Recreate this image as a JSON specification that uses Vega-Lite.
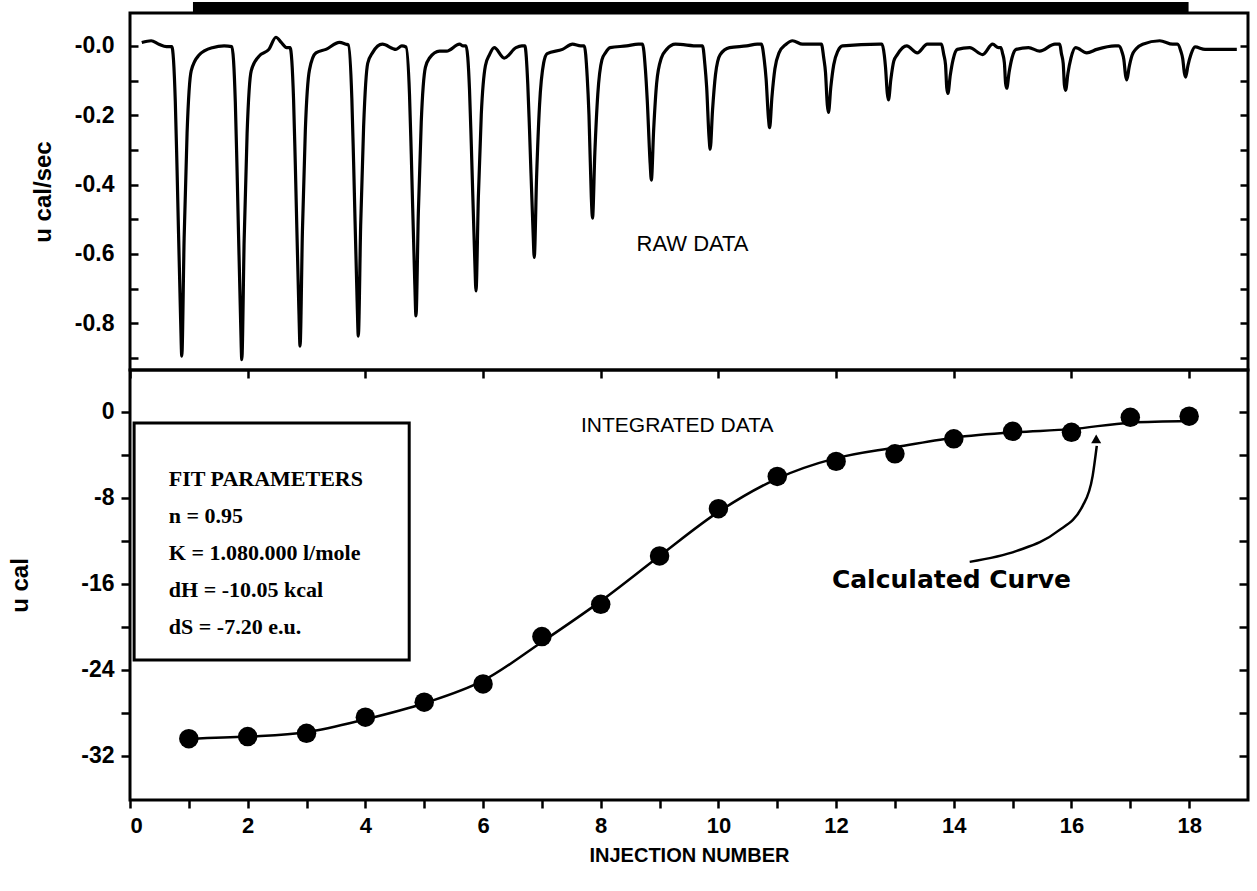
{
  "$schema": "https://vega.github.io/schema/vega-lite/v6.json",
  "padding": {"left": 6, "top": 0, "right": 5, "bottom": 5},
  "bounds": "flush",
  "spacing": 0,
  "background": "white",
  "config": {
    "view": {"stroke": "black", "strokeWidth": 3},
    "font": "Liberation Sans",
    "axis": {
      "domain": false, "grid": false, "tickColor": "black", "tickWidth": 2.5,
      "labelColor": "black", "titleColor": "black",
      "labelFont": "Liberation Sans", "labelFontWeight": "bold", "labelFontSize": 23,
      "titleFont": "Liberation Sans", "titleFontWeight": "bold", "titleFontSize": 24
    }
  },
  "datasets": {
    "raw": [
      {"t":0.20,"v":0.010},{"t":0.36,"v":0.015},{"t":0.49,"v":0.005},{"t":0.62,"v":-0.002},
      {"t":0.71,"v":-0.002},{"t":0.77,"v":-0.161},{"t":0.80,"v":-0.358},{"t":0.86,"v":-0.788},{"t":0.88,"v":-0.895},{"t":0.92,"v":-0.555},{"t":0.97,"v":-0.251},{"t":1.04,"v":-0.072},{"t":1.17,"v":-0.027},{"t":1.40,"v":-0.005},{"t":1.60,"v":0.0},
      {"t":1.73,"v":-0.002},{"t":1.79,"v":-0.163},{"t":1.82,"v":-0.362},{"t":1.88,"v":-0.796},{"t":1.90,"v":-0.905},{"t":1.94,"v":-0.561},{"t":1.99,"v":-0.253},{"t":2.06,"v":-0.072},{"t":2.19,"v":-0.03},{"t":2.36,"v":-0.01},{"t":2.48,"v":0.025},{"t":2.57,"v":0.01},{"t":2.66,"v":-0.005},
      {"t":2.72,"v":-0.005},{"t":2.78,"v":-0.156},{"t":2.81,"v":-0.346},{"t":2.87,"v":-0.762},{"t":2.89,"v":-0.866},{"t":2.93,"v":-0.537},{"t":2.98,"v":-0.242},{"t":3.05,"v":-0.069},{"t":3.16,"v":-0.02},{"t":3.33,"v":-0.01},{"t":3.56,"v":0.01},{"t":3.67,"v":0.005},
      {"t":3.71,"v":0.003},{"t":3.77,"v":-0.151},{"t":3.80,"v":-0.335},{"t":3.86,"v":-0.737},{"t":3.88,"v":-0.837},{"t":3.92,"v":-0.519},{"t":3.97,"v":-0.234},{"t":4.04,"v":-0.05},{"t":4.12,"v":-0.02},{"t":4.29,"v":0.005},{"t":4.52,"v":-0.01},{"t":4.62,"v":0.0},
      {"t":4.69,"v":-0.003},{"t":4.75,"v":-0.14},{"t":4.78,"v":-0.312},{"t":4.84,"v":-0.686},{"t":4.86,"v":-0.779},{"t":4.90,"v":-0.483},{"t":4.95,"v":-0.218},{"t":5.02,"v":-0.062},{"t":5.09,"v":-0.035},{"t":5.26,"v":-0.015},{"t":5.38,"v":-0.015},{"t":5.60,"v":0.005},{"t":5.66,"v":0.0},
      {"t":5.71,"v":0.0},{"t":5.77,"v":-0.127},{"t":5.80,"v":-0.283},{"t":5.86,"v":-0.622},{"t":5.88,"v":-0.707},{"t":5.92,"v":-0.438},{"t":5.97,"v":-0.198},{"t":6.04,"v":-0.057},{"t":6.11,"v":-0.025},{"t":6.19,"v":-0.005},{"t":6.36,"v":-0.035},{"t":6.56,"v":-0.005},{"t":6.66,"v":0.0},
      {"t":6.71,"v":0.0},{"t":6.76,"v":-0.11},{"t":6.79,"v":-0.244},{"t":6.85,"v":-0.537},{"t":6.87,"v":-0.61},{"t":6.91,"v":-0.378},{"t":6.96,"v":-0.171},{"t":7.03,"v":-0.049},{"t":7.09,"v":-0.022},{"t":7.35,"v":-0.01},{"t":7.52,"v":0.005},{"t":7.66,"v":0.0},
      {"t":7.72,"v":0.0},{"t":7.77,"v":-0.089},{"t":7.80,"v":-0.199},{"t":7.84,"v":-0.437},{"t":7.86,"v":-0.497},{"t":7.90,"v":-0.308},{"t":7.95,"v":-0.139},{"t":8.02,"v":-0.04},{"t":8.08,"v":-0.02},{"t":8.16,"v":-0.005},{"t":8.44,"v":0.0},{"t":8.64,"v":0.005},
      {"t":8.71,"v":0.005},{"t":8.76,"v":-0.07},{"t":8.79,"v":-0.155},{"t":8.84,"v":-0.34},{"t":8.86,"v":-0.387},{"t":8.90,"v":-0.24},{"t":8.95,"v":-0.108},{"t":9.03,"v":-0.035},{"t":9.12,"v":-0.01},{"t":9.27,"v":0.005},{"t":9.66,"v":0.0},
      {"t":9.73,"v":0.0},{"t":9.77,"v":-0.054},{"t":9.80,"v":-0.119},{"t":9.84,"v":-0.262},{"t":9.86,"v":-0.298},{"t":9.90,"v":-0.185},{"t":9.95,"v":-0.083},{"t":10.03,"v":-0.025},{"t":10.19,"v":-0.005},{"t":10.48,"v":0.0},{"t":10.66,"v":0.005},
      {"t":10.73,"v":0.005},{"t":10.78,"v":-0.042},{"t":10.81,"v":-0.094},{"t":10.85,"v":-0.208},{"t":10.87,"v":-0.236},{"t":10.91,"v":-0.146},{"t":10.96,"v":-0.066},{"t":11.03,"v":-0.02},{"t":11.15,"v":0.005},{"t":11.26,"v":0.015},{"t":11.43,"v":0.005},{"t":11.67,"v":0.005},
      {"t":11.75,"v":0.005},{"t":11.79,"v":-0.035},{"t":11.82,"v":-0.077},{"t":11.85,"v":-0.169},{"t":11.87,"v":-0.192},{"t":11.91,"v":-0.119},{"t":11.96,"v":-0.054},{"t":12.03,"v":-0.015},{"t":12.11,"v":0.0},{"t":12.74,"v":0.005},
      {"t":12.78,"v":0.005},{"t":12.82,"v":-0.028},{"t":12.84,"v":-0.062},{"t":12.87,"v":-0.137},{"t":12.89,"v":-0.156},{"t":12.93,"v":-0.097},{"t":12.98,"v":-0.044},{"t":13.04,"v":-0.025},{"t":13.20,"v":0.0},{"t":13.38,"v":-0.02},{"t":13.55,"v":0.005},{"t":13.72,"v":0.005},
      {"t":13.79,"v":0.005},{"t":13.83,"v":-0.025},{"t":13.86,"v":-0.055},{"t":13.88,"v":-0.12},{"t":13.90,"v":-0.137},{"t":13.94,"v":-0.085},{"t":13.99,"v":-0.038},{"t":14.06,"v":-0.01},{"t":14.27,"v":-0.005},{"t":14.49,"v":-0.025},{"t":14.66,"v":0.005},{"t":14.76,"v":-0.005},
      {"t":14.80,"v":-0.005},{"t":14.83,"v":-0.022},{"t":14.86,"v":-0.049},{"t":14.88,"v":-0.107},{"t":14.90,"v":-0.122},{"t":14.94,"v":-0.076},{"t":14.99,"v":-0.034},{"t":15.06,"v":-0.01},{"t":15.27,"v":-0.005},{"t":15.46,"v":-0.015},{"t":15.72,"v":0.005},
      {"t":15.80,"v":0.005},{"t":15.83,"v":-0.023},{"t":15.86,"v":-0.051},{"t":15.88,"v":-0.113},{"t":15.90,"v":-0.128},{"t":15.94,"v":-0.079},{"t":15.99,"v":-0.036},{"t":16.07,"v":-0.005},{"t":16.26,"v":-0.02},{"t":16.43,"v":-0.01},{"t":16.74,"v":0.0},
      {"t":16.80,"v":0.0},{"t":16.86,"v":-0.018},{"t":16.89,"v":-0.039},{"t":16.92,"v":-0.086},{"t":16.94,"v":-0.098},{"t":16.98,"v":-0.061},{"t":17.03,"v":-0.027},{"t":17.10,"v":-0.008},{"t":17.21,"v":0.005},{"t":17.50,"v":0.015},{"t":17.72,"v":0.005},
      {"t":17.80,"v":0.005},{"t":17.86,"v":-0.016},{"t":17.89,"v":-0.036},{"t":17.92,"v":-0.079},{"t":17.94,"v":-0.09},{"t":17.98,"v":-0.056},{"t":18.03,"v":-0.025},{"t":18.10,"v":-0.003},{"t":18.27,"v":-0.01},{"t":18.44,"v":-0.01},{"t":18.81,"v":-0.01}
    ],
    "itc": [
      {"injection":1,"heat":-30.4,"fit":-30.4},
      {"injection":2,"heat":-30.2,"fit":-30.2},
      {"injection":3,"heat":-29.9,"fit":-29.8},
      {"injection":4,"heat":-28.4,"fit":-28.6},
      {"injection":5,"heat":-27.0,"fit":-27.1},
      {"injection":6,"heat":-25.3,"fit":-25.0},
      {"injection":7,"heat":-20.9,"fit":-21.4},
      {"injection":8,"heat":-17.9,"fit":-17.6},
      {"injection":9,"heat":-13.4,"fit":-13.4},
      {"injection":10,"heat":-9.0,"fit":-9.3},
      {"injection":11,"heat":-6.0,"fit":-6.2},
      {"injection":12,"heat":-4.6,"fit":-4.3},
      {"injection":13,"heat":-3.9,"fit":-3.3},
      {"injection":14,"heat":-2.5,"fit":-2.4},
      {"injection":15,"heat":-1.8,"fit":-1.9},
      {"injection":16,"heat":-1.9,"fit":-1.6},
      {"injection":17,"heat":-0.5,"fit":-1.0},
      {"injection":18,"heat":-0.4,"fit":-0.85}
    ],
    "arrow": [
      {"x":14.27,"y":-13.95},{"x":15.07,"y":-12.93},{"x":15.75,"y":-11.16},{"x":16.19,"y":-8.74},{"x":16.36,"y":-5.95},{"x":16.43,"y":-3.16}
    ]
  },
  "vconcat": [
    {
      "width": 1118,
      "height": 357,
      "layer": [
        {
          "data": {"name": "raw"},
          "mark": {"type": "line", "color": "black", "strokeWidth": 3.2, "interpolate": "monotone"},
          "encoding": {
            "x": {"field": "t", "type": "quantitative", "scale": {"domain": [0, 19], "nice": false, "zero": false}, "axis": null},
            "y": {"field": "v", "type": "quantitative", "scale": {"domain": [-0.935, 0.095], "nice": false, "zero": false},
              "axis": {"orient": "left", "title": "u cal/sec", "values": [-0.9,-0.8,-0.7,-0.6,-0.5,-0.4,-0.3,-0.2,-0.1,0],
                "tickSize": -8, "labelPadding": 24,
                "labelExpr": "abs(round(datum.value*10)) % 2 == 0 ? '-' + format(abs(datum.value), '.1f') : ''",
                "titleX": -87, "titleBaseline": "middle"}}
          }
        },
        {
          "data": {"values": [{}]},
          "mark": {"type": "rect", "color": "black", "clip": false},
          "encoding": {
            "x": {"datum": 1.07, "type": "quantitative", "axis": null},
            "x2": {"datum": 17.99},
            "y": {"datum": 0.095, "type": "quantitative",
              "axis": {"orient": "right", "title": null, "labels": false, "values": [-0.9,-0.8,-0.7,-0.6,-0.5,-0.4,-0.3,-0.2,-0.1,0], "tickSize": -8}},
            "y2": {"datum": 0.127}
          }
        },
        {
          "data": {"values": [{}]},
          "mark": {"type": "text", "text": "RAW DATA", "font": "Liberation Sans", "fontSize": 22, "color": "black", "align": "center", "baseline": "middle"},
          "encoding": {
            "x": {"datum": 9.56, "type": "quantitative", "axis": null},
            "y": {"datum": -0.571, "type": "quantitative", "axis": null}
          }
        }
      ],
      "resolve": {"axis": {"y": "independent"}}
    },
    {
      "width": 1118,
      "height": 430,
      "layer": [
        {
          "data": {"name": "itc"},
          "mark": {"type": "line", "color": "black", "strokeWidth": 2.5, "interpolate": "monotone"},
          "encoding": {
            "x": {"field": "injection", "type": "quantitative", "scale": {"domain": [0, 19], "nice": false, "zero": false},
              "axis": {"orient": "bottom", "title": "INJECTION NUMBER", "values": [0,1,2,3,4,5,6,7,8,9,10,11,12,13,14,15,16,17,18],
                "tickSize": 8, "labelPadding": 7, "labelFontSize": 22, "labelExpr": "datum.value % 2 == 0 ? format(datum.value, 'd') : ''",
                "titleFontSize": 20, "titlePadding": 9}},
            "y": {"field": "fit", "type": "quantitative", "scale": {"domain": [-36.1, 3.9], "nice": false, "zero": false},
              "axis": {"orient": "left", "title": "u cal", "values": [-32,-28,-24,-20,-16,-12,-8,-4,0],
                "tickSize": 9, "labelPadding": 7,
                "labelExpr": "abs(datum.value) % 8 == 0 ? (datum.value == 0 ? '0' : '-' + format(abs(datum.value), 'd')) : ''",
                "titleX": -110, "titleBaseline": "middle"}}
          }
        },
        {
          "data": {"name": "itc"},
          "mark": {"type": "point", "filled": true, "color": "black", "opacity": 1, "size": 380, "shape": "circle"},
          "encoding": {
            "x": {"field": "injection", "type": "quantitative",
              "axis": {"orient": "top", "title": null, "labels": false, "values": [0,2,4,6,8,10,12,14,16,18], "tickSize": -8}},
            "y": {"field": "heat", "type": "quantitative",
              "axis": {"orient": "right", "title": null, "labels": false, "values": [-32,-28,-24,-20,-16,-12,-8,-4,0], "tickSize": -9}}
          }
        },
        {
          "data": {"values": [{}]},
          "mark": {"type": "rect", "fill": "white", "stroke": "black", "strokeWidth": 3},
          "encoding": {
            "x": {"datum": 0.07, "type": "quantitative", "axis": null},
            "x2": {"datum": 4.745},
            "y": {"datum": -1.02, "type": "quantitative", "axis": null},
            "y2": {"datum": -23.07}
          }
        },
        {
          "data": {"values": [{}]},
          "mark": {"type": "text", "text": ["FIT PARAMETERS", "n = 0.95", "K = 1.080.000 l/mole", "dH = -10.05 kcal", "dS = -7.20 e.u."],
            "font": "Liberation Serif", "fontWeight": "bold", "fontSize": 22, "lineHeight": 37, "color": "black", "align": "left", "baseline": "alphabetic"},
          "encoding": {
            "x": {"datum": 0.66, "type": "quantitative", "axis": null},
            "y": {"datum": -6.88, "type": "quantitative", "axis": null}
          }
        },
        {
          "data": {"values": [{}]},
          "mark": {"type": "text", "text": "INTEGRATED DATA", "font": "Liberation Sans", "fontSize": 21, "color": "black", "align": "center", "baseline": "middle"},
          "encoding": {
            "x": {"datum": 9.3, "type": "quantitative", "axis": null},
            "y": {"datum": -1.3, "type": "quantitative", "axis": null}
          }
        },
        {
          "data": {"values": [{}]},
          "mark": {"type": "text", "text": "Calculated Curve", "font": "DejaVu Sans", "fontWeight": "bold", "fontSize": 25, "color": "black", "align": "center", "baseline": "middle"},
          "encoding": {
            "x": {"datum": 13.96, "type": "quantitative", "axis": null},
            "y": {"datum": -15.63, "type": "quantitative", "axis": null}
          }
        },
        {
          "data": {"name": "arrow"},
          "mark": {"type": "line", "color": "black", "strokeWidth": 2.5, "interpolate": "monotone"},
          "encoding": {
            "x": {"field": "x", "type": "quantitative", "axis": null},
            "y": {"field": "y", "type": "quantitative", "axis": null}
          }
        },
        {
          "data": {"values": [{}]},
          "mark": {"type": "point", "shape": "triangle-up", "filled": true, "color": "black", "opacity": 1, "size": 100},
          "encoding": {
            "x": {"datum": 16.42, "type": "quantitative", "axis": null},
            "y": {"datum": -2.5, "type": "quantitative", "axis": null}
          }
        }
      ],
      "resolve": {"axis": {"x": "independent", "y": "independent"}}
    }
  ]
}
